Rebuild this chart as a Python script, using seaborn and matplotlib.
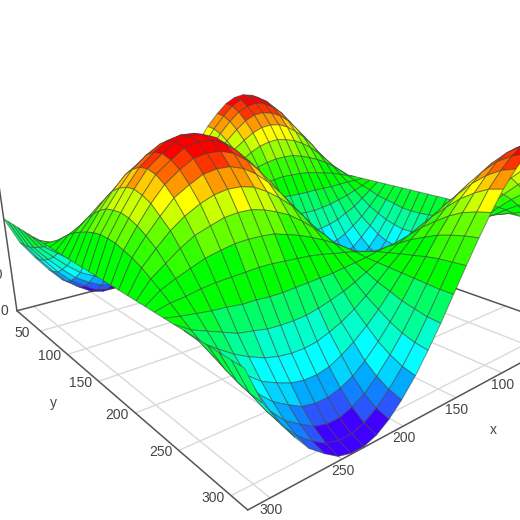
import numpy as np
import seaborn as sns
import matplotlib
matplotlib.use('Agg')
import matplotlib.pyplot as plt
from mpl_toolkits.mplot3d import proj3d

x_vals = [0, 10, 20, 30, 41, 51, 61, 71, 81, 91, 101, 111, 122, 132, 142, 152,
          162, 172, 182, 192, 203, 213, 223, 233, 243, 253, 263, 274, 284, 294, 304, 314]
y_vals = [0, 10, 20, 30, 41, 51, 61, 71, 81, 91, 101, 111, 122, 132, 142, 152,
          162, 172, 182, 192, 203, 213, 223, 233, 243, 253, 263, 274, 284, 294, 304, 314]

# heights, one row per y value
z_rows = [
[125,150,174,196,215,230,241,248,250,247,239,226,209,189,167,143,118,93,70,49,30,16,6,1,1,5,15,28,46,67,90,125],
[125,150,173,195,213,228,239,246,248,245,237,224,207,188,166,143,118,94,71,51,32,18,8,3,3,7,17,30,48,68,91,125],
[125,148,170,190,208,222,232,238,240,237,230,218,202,184,164,142,119,96,74,55,38,25,15,11,11,14,24,36,52,72,93,125],
[125,146,165,184,199,212,221,226,228,226,219,208,194,178,160,140,119,99,80,62,47,35,27,23,23,26,34,45,60,77,96,125],
[125,142,159,174,188,198,206,211,212,210,204,195,184,170,154,138,120,103,87,72,59,49,42,39,39,41,48,57,70,85,101,125],
[125,139,151,163,174,182,188,191,193,191,187,180,170,160,148,135,121,108,95,84,74,66,61,58,58,60,66,73,82,94,106,125],
[125,134,143,151,158,163,167,170,170,169,166,162,155,148,140,132,122,113,105,97,91,86,82,80,80,82,85,90,96,104,112,125],
[125,129,133,137,140,143,145,146,146,146,144,142,139,136,132,128,124,120,116,112,109,106,105,104,104,105,106,109,112,115,119,125],
[125,124,124,123,122,122,122,121,121,121,122,122,123,123,124,124,125,126,127,127,128,128,128,129,129,128,128,128,127,127,126,125],
[125,119,114,109,105,101,99,97,97,97,99,102,106,110,115,121,127,132,137,142,147,150,152,153,153,152,150,147,143,138,133,125],
[125,115,105,95,88,81,77,74,73,74,78,83,90,98,108,118,128,138,148,157,165,170,175,177,177,175,171,165,158,149,140,125],
[125,110,96,83,72,63,57,53,51,53,58,66,76,87,100,114,129,144,157,170,181,189,195,198,198,196,190,182,172,159,146,125],
[125,107,89,73,59,48,40,34,33,35,41,51,63,78,94,112,130,149,166,181,195,205,213,216,216,213,206,196,183,168,151,125],
[125,104,83,64,48,35,26,20,18,20,27,38,53,70,89,110,131,152,172,190,206,218,227,231,231,228,219,208,193,175,155,125],
[125,101,79,58,40,26,16,9,7,10,18,30,46,65,85,108,132,155,177,197,214,228,237,242,242,238,229,216,199,180,158,125],
[125,100,76,55,36,21,10,3,1,4,12,25,42,62,83,107,132,157,179,200,219,233,243,248,248,244,234,221,203,182,160,125],
[125,100,76,54,35,20,9,2,0,3,11,24,41,61,83,107,132,157,180,201,220,234,244,249,249,245,235,222,204,183,160,125],
[125,101,78,56,38,23,13,6,4,7,15,27,44,63,84,108,132,156,178,198,217,230,240,245,245,241,231,219,201,181,159,125],
[125,103,81,61,44,31,21,15,13,16,23,34,50,68,87,109,131,154,174,193,210,223,232,236,236,233,224,212,196,177,156,125],
[125,105,86,69,54,42,33,28,26,28,35,45,59,74,92,111,131,150,169,185,200,211,219,223,223,220,212,202,187,171,153,125],
[125,109,93,79,66,56,49,45,43,45,50,59,70,83,98,113,130,146,161,175,187,196,203,206,206,203,197,188,177,163,148,125],
[125,113,101,90,81,74,68,65,64,65,69,76,84,94,104,116,128,141,152,162,172,178,183,186,186,184,179,173,164,153,142,125],
[125,117,110,103,97,93,89,87,87,88,90,94,99,105,112,119,127,135,142,148,154,158,162,163,163,162,159,155,149,143,136,125],
[125,122,120,117,115,113,112,111,111,111,112,114,116,118,120,123,126,129,131,134,136,137,138,139,139,138,137,136,134,131,129,125],
[125,127,129,131,133,134,135,136,136,136,135,134,132,131,129,127,124,122,120,118,117,116,115,114,114,115,115,117,118,120,122,125],
[125,132,139,145,151,155,158,160,161,160,157,154,149,143,137,130,123,116,109,103,98,94,91,90,90,91,94,97,103,109,115,125],
[125,137,148,158,167,174,179,183,184,182,178,172,164,155,145,133,122,110,99,89,80,74,69,67,67,69,73,80,88,98,109,125],
[125,141,156,170,182,192,199,203,204,202,197,189,178,166,152,136,121,105,90,77,65,56,49,46,46,49,55,63,75,88,103,125],
[125,144,163,180,195,206,215,220,222,220,213,203,190,175,158,139,120,100,82,66,51,40,33,29,29,32,40,50,64,80,98,125],
[125,147,168,188,205,218,228,234,236,233,226,214,199,182,162,141,119,97,76,58,41,28,20,15,15,19,28,39,55,74,94,125],
[125,149,172,193,211,226,236,243,245,242,234,222,206,186,165,142,118,94,72,52,34,20,11,6,6,10,19,32,49,69,91,125],
[125,150,174,196,215,230,241,248,250,247,239,226,209,189,167,143,118,93,70,49,30,16,6,1,1,5,15,28,46,67,90,125],
]

x_ticks = [50, 100, 150, 200, 250, 300]
y_ticks = [50, 100, 150, 200, 250, 300]
z_ticks = [0, 50, 100, 150, 200, 250]

band_colors = ['#4000ff', '#2b55ff', '#1080ff', '#00aaff', '#00d4ff', '#00ffff', '#00ffcc',
               '#00ff99', '#00ff66', '#00ff33', '#00ff00', '#33ff00', '#66ff00', '#99ff00',
               '#ccff00', '#ffff00', '#ffcc00', '#ff9900', '#ff6600', '#ff3300', '#ff0000']
band_edges = [18, 28, 36, 44, 54, 68, 84, 97, 110, 120, 150, 166, 178, 188, 196, 204, 212, 220, 228, 238]

sns.set_theme(style='white')
plt.rcParams['font.family'] = ['Liberation Sans', 'DejaVu Sans']

xmax = 314
ymax = 314
zmax = 161
grid_col = '#d9d9d9'
axis_col = '#555555'
text_col = '#444444'

fig = plt.figure(figsize=(5.2, 5.2), dpi=100)
ax = fig.add_axes([-20 / 520, -49 / 520, 600 / 520, 600 / 520], projection='3d')
ax.set_proj_type('persp', focal_length=0.2143)
ax.view_init(elev=19.7, azim=50.1)
ax.set_box_aspect((1, 1, 0.32), zoom=0.9637)
ax.set_xlim(0, xmax)
ax.set_ylim(0, ymax)
ax.set_zlim(0, zmax)
ax.set_axis_off()
ax.computed_zorder = False
ax.patch.set_alpha(0)

# floor grid
for t in x_ticks:
    ax.plot([t, t], [0, ymax], [0, 0], color=grid_col, lw=1, zorder=1)
for t in y_ticks:
    ax.plot([0, xmax], [t, t], [0, 0], color=grid_col, lw=1, zorder=1)

# box edges on the floor and the z axis
ax.plot([xmax, xmax], [0, ymax], [0, 0], color=axis_col, lw=1.1, zorder=2)
ax.plot([0, xmax], [ymax, ymax], [0, 0], color=axis_col, lw=1.1, zorder=2)
ax.plot([0, xmax], [0, 0], [0, 0], color=axis_col, lw=1.1, zorder=2)
ax.plot([0, 0], [0, ymax], [0, 0], color=axis_col, lw=1.1, zorder=2)
ax.plot([xmax, xmax], [0, 0], [0, 300], color=axis_col, lw=1.1, zorder=2)

X, Y = np.meshgrid(x_vals, y_vals)
Z = np.array(z_rows, dtype=float)

# each cell gets the band of its mean height
pal = sns.color_palette(band_colors)
cell_mean = np.zeros(Z.shape)
cell_mean[:-1, :-1] = (Z[:-1, :-1] + Z[1:, :-1] + Z[:-1, 1:] + Z[1:, 1:]) / 4
idx = np.digitize(cell_mean, band_edges)
cols = np.array(pal)[idx]

ax.plot_surface(X, Y, Z, rstride=1, cstride=1, facecolors=cols, shade=False,
                edgecolor=(0.25, 0.25, 0.25, 0.55), linewidth=0.7, zorder=3)


def label(x, y, z, txt, dx, dy, ha='center'):
    px, py, _ = proj3d.proj_transform(x, y, z, ax.get_proj())
    ax.annotate(txt, xy=(px, py), xycoords='data', xytext=(dx, dy), textcoords='offset pixels',
                ha=ha, va='center', fontsize=10, color=text_col, annotation_clip=False, zorder=5)


for t in y_ticks:
    label(xmax, t, 0, str(t), -18, -2)
for t in x_ticks:
    label(t, ymax, 0, str(t), 1, -12)
for t in z_ticks:
    label(xmax, 0, t, str(t), -9, 0, ha='right')

fig.text(53 / 520, 1 - 403 / 520, 'y', ha='center', va='center', fontsize=10, color=text_col)
fig.text(493 / 520, 1 - 430 / 520, 'x', ha='center', va='center', fontsize=10, color=text_col)

fig.savefig('out.png', dpi=100)
